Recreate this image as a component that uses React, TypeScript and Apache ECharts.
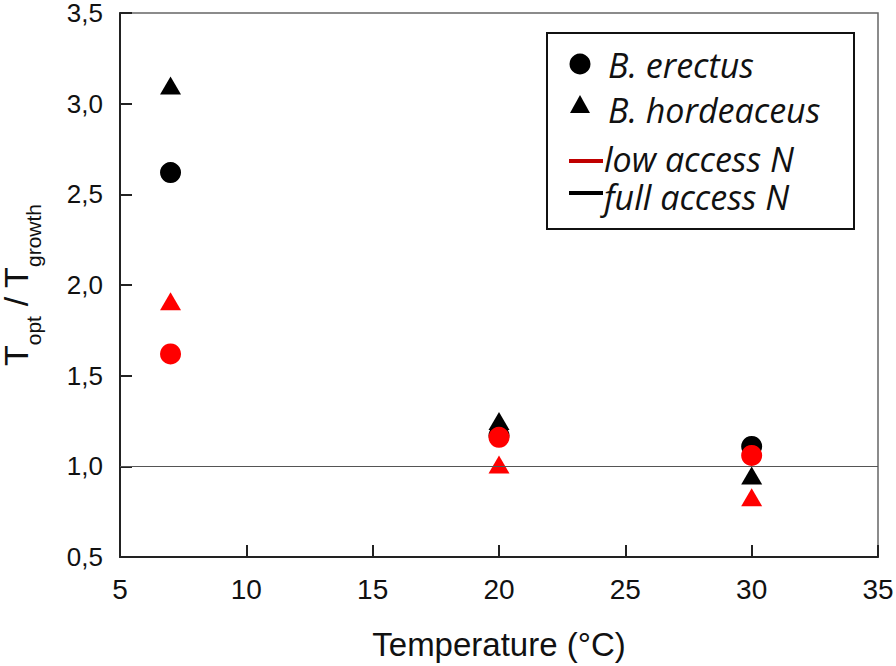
import React, { useEffect, useRef } from "react";
import * as echarts from "echarts";

const temperatures = [7, 20, 30];
const erectusFull = [2.62, 1.17, 1.11];
const erectusLow = [1.62, 1.16, 1.06];
const hordeaceusFull = [3.1, 1.25, 0.95];
const hordeaceusLow = [1.91, 1.01, 0.83];
const refValue = 1.0;

const legendLabels = ["B. erectus", "B. hordeaceus", "low access N", "full access N"];

const RED = "#ff0000";
const BLACK = "#000000";

function pairs(ys: number[]) {
  return temperatures.map((x, i) => [x, ys[i]]);
}

export default function App() {
  const ref = useRef<HTMLDivElement>(null);
  useEffect(() => {
    if (!ref.current) return;
    const chart = echarts.init(ref.current, undefined, { renderer: "svg" });
    const axisFont = "Liberation Sans, Arial, sans-serif";
    const legendFont = "Open Sans, Lato, sans-serif";
    const circleSize = 21;
    const triSize = [21, 18];
    const option = {
      animation: false,
      backgroundColor: "#ffffff",
      grid: {
        left: 120,
        right: 18,
        top: 13,
        bottom: 109,
        show: true,
        borderColor: "#666",
        borderWidth: 1.5,
        outerBoundsMode: "none",
        containLabel: false,
      },
      xAxis: {
        type: "value",
        min: 5,
        max: 35,
        interval: 5,
        name: "Temperature (°C)",
        nameLocation: "middle",
        nameGap: 71,
        nameTextStyle: { fontFamily: axisFont, fontSize: 33, color: "#111" },
        axisLine: { show: true, lineStyle: { color: "#222", width: 2 } },
        axisTick: { show: true, inside: true, length: 12, lineStyle: { color: "#222", width: 2 } },
        axisLabel: { fontFamily: axisFont, fontSize: 28, color: "#111", margin: 18 },
        splitLine: { show: false },
      },
      yAxis: {
        type: "value",
        min: 0.5,
        max: 3.5,
        interval: 0.5,
        name: "{t|T}{s|opt}{t| / T}{s|growth}",
        nameLocation: "middle",
        nameRotate: 90,
        nameGap: 76,
        nameTextStyle: {
          fontFamily: axisFont,
          color: "#111",
          rich: {
            t: { fontFamily: axisFont, fontSize: 34, lineHeight: 28, padding: [0, 0, 11, 0], verticalAlign: "bottom", color: "#111" },
            s: { fontFamily: axisFont, fontSize: 21, lineHeight: 21, verticalAlign: "bottom", color: "#111" },
          },
        },
        axisLine: { show: true, lineStyle: { color: "#222", width: 2 } },
        axisTick: { show: true, inside: true, length: 12, lineStyle: { color: "#222", width: 2 } },
        axisLabel: {
          fontFamily: axisFont,
          fontSize: 26,
          color: "#111",
          margin: 17,
          formatter: (v: number) => v.toFixed(1).replace(".", ","),
        },
        splitLine: { show: false },
      },
      series: [
        {
          name: "B. hordeaceus full",
          type: "scatter",
          symbol: "triangle",
          symbolSize: triSize,
          itemStyle: { color: BLACK, opacity: 1 },
          data: pairs(hordeaceusFull),
          markLine: {
            silent: true,
            symbol: "none",
            label: { show: false },
            lineStyle: { color: "#555", width: 1, type: "solid" },
            data: [{ yAxis: refValue }],
          },
          z: 3,
        },
        {
          name: "B. erectus full",
          type: "scatter",
          symbol: "circle",
          symbolSize: circleSize,
          itemStyle: { color: BLACK, opacity: 1 },
          data: pairs(erectusFull),
          z: 3,
        },
        {
          name: "B. erectus low",
          type: "scatter",
          symbol: "circle",
          symbolSize: circleSize,
          itemStyle: { color: RED, opacity: 1 },
          data: pairs(erectusLow),
          z: 4,
        },
        {
          name: "B. hordeaceus low",
          type: "scatter",
          symbol: "triangle",
          symbolSize: triSize,
          itemStyle: { color: RED, opacity: 1 },
          data: pairs(hordeaceusLow),
          z: 4,
        },
      ],
      graphic: [
        {
          type: "group",
          left: 546,
          top: 32,
          children: [
            {
              type: "rect",
              shape: { x: 0, y: 0, width: 307, height: 196 },
              style: { fill: "#fff", stroke: "#111", lineWidth: 2 },
            },
            { type: "circle", shape: { cx: 33, cy: 31, r: 10.5 }, style: { fill: BLACK } },
            {
              type: "polygon",
              shape: { points: [[33, 62], [43, 80], [23, 80]] },
              style: { fill: BLACK },
            },
            { type: "line", shape: { x1: 22, y1: 128, x2: 56, y2: 128 }, style: { stroke: "#c00000", lineWidth: 4 } },
            { type: "line", shape: { x1: 22, y1: 160, x2: 56, y2: 160 }, style: { stroke: BLACK, lineWidth: 4 } },
            ...legendLabels.map((label, i) => ({
              type: "text",
              x: i < 2 ? 61 : 57,
              y: [32, 77, 126, 164][i],
              style: {
                text: label,
                fontFamily: legendFont,
                fontStyle: "italic",
                fontSize: 34,
                lineHeight: 30,
                fill: "#111",
                verticalAlign: "middle",
                align: "left",
              },
            })),
          ],
        },
      ],
    };
    chart.setOption(option as any);
    return () => chart.dispose();
  }, []);
  return (
    <div
      ref={ref}
      style={{ position: "fixed", left: 0, top: 0, width: 896, height: 666 }}
    />
  );
}
